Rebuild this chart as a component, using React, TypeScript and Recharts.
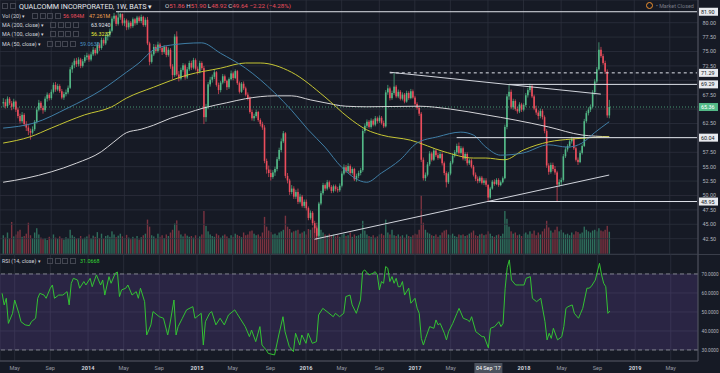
import React from 'react';
import { ComposedChart, Bar, Line, XAxis, YAxis, CartesianGrid, ReferenceLine, ReferenceArea } from 'recharts';

// QCOM weekly candles, one value per week (open = previous close)
const firstOpen = 66.0;
const closes = [
  66.2, 65.5, 66.8, 66.0, 65.4, 66.3, 64.9, 63.8, 62.9, 64.0,
  62.4, 61.8, 61.2, 60.9, 61.5, 62.8, 64.9, 66.1, 65.2, 64.8,
  66.8, 67.5, 66.9, 68.0, 69.2, 68.4, 69.0, 68.1, 67.0, 67.6,
  67.9, 68.7, 71.9, 72.6, 73.4, 72.8, 73.6, 72.5, 73.3, 74.0,
  74.3, 73.6, 74.5, 75.3, 74.7, 76.2, 75.6, 77.0, 76.4, 77.6,
  77.9, 78.6, 80.7, 81.2, 79.8, 80.9, 81.5, 79.9, 80.4, 79.2,
  80.0, 79.4, 80.6, 79.9, 80.9, 80.3, 81.0, 79.6, 80.5, 76.4,
  73.2, 74.5, 75.8, 75.1, 76.2, 75.6, 74.9, 75.8, 74.4, 75.3,
  72.4, 70.9, 77.6, 71.0, 70.3, 71.8, 72.6, 70.5, 71.9, 73.0,
  72.2, 73.5, 72.0, 71.5, 73.0, 72.1, 63.6, 65.4, 69.3, 70.1,
  70.6, 71.4, 69.2, 68.3, 69.6, 70.7, 69.9, 68.8, 70.2, 71.2,
  70.4, 71.6, 69.5, 68.0, 69.4, 68.6, 67.5, 66.9, 64.5, 63.4,
  63.8, 64.5, 63.1, 62.4, 61.8, 56.0, 54.5, 53.9, 53.2, 54.0,
  54.6, 56.3, 57.9, 59.4, 60.8, 53.4, 52.6, 50.6, 51.2, 49.8,
  50.6, 48.9, 49.8, 48.2, 48.9, 47.8, 46.1, 47.0, 45.2, 44.3,
  43.0, 48.6, 50.4, 51.8, 51.2, 52.3, 51.5, 50.8, 51.6, 51.1,
  50.9, 51.7, 53.8, 54.9, 54.2, 55.1, 53.9, 54.6, 52.8, 53.4,
  53.9, 54.4, 61.2, 62.1, 62.8, 61.9, 63.0, 62.3, 63.4, 62.9,
  63.5, 62.6, 62.0, 67.9, 68.6, 66.9, 67.8, 68.9, 67.2, 68.0,
  66.8, 67.5, 66.3, 67.8, 66.9, 68.1, 67.0, 65.9, 65.2, 64.2,
  56.2, 53.0, 53.6, 55.4, 57.3, 56.2, 57.8, 57.0, 56.5, 57.2,
  55.6, 53.9, 52.3, 53.8, 55.7, 56.9, 57.5, 58.6, 57.4, 58.2,
  56.4, 57.2, 55.6, 56.1, 55.0, 53.6, 52.9, 52.5, 53.1, 52.2,
  52.6, 51.86, 49.64, 51.2, 52.4, 52.0, 52.7, 51.8, 52.3, 53.0,
  61.9, 67.2, 68.0, 65.3, 66.4, 65.0, 64.6, 65.8, 64.9, 65.7,
  67.4, 68.3, 69.0, 67.2, 65.1, 64.4, 63.8, 64.7, 63.6, 61.2,
  55.2, 54.1, 55.3, 54.6, 54.0, 51.9, 52.3, 52.7, 56.8, 58.0,
  58.6, 59.4, 59.8, 58.2, 56.2, 55.8, 57.4, 58.6, 62.9, 64.3,
  64.9, 65.4, 67.9, 69.8, 71.9, 75.3, 74.2, 73.0, 71.5, 63.9,
  65.36,
];
const highs = [
  66.9, 66.7, 67.2, 67.1, 66.4, 66.8, 66.5, 65.3, 64.2, 64.5,
  64.3, 62.9, 62.2, 61.6, 62.0, 63.1, 65.3, 66.6, 66.4, 65.6,
  67.2, 67.9, 67.8, 68.4, 69.6, 69.7, 69.4, 69.3, 68.5, 68.0,
  68.4, 69.1, 72.3, 73.1, 73.8, 73.9, 74.0, 73.9, 73.7, 74.4,
  74.8, 74.6, 74.9, 75.8, 75.6, 76.6, 76.5, 77.4, 77.3, 78.0,
  78.4, 79.0, 81.1, 81.7, 81.4, 81.9, 81.7, 81.6, 80.8, 80.7,
  80.4, 80.3, 80.9, 80.8, 81.2, 81.2, 81.4, 81.2, 80.9, 81.0,
  76.7, 74.9, 76.3, 76.2, 76.7, 76.5, 75.9, 76.1, 76.0, 75.7,
  75.6, 72.8, 78.0, 78.5, 71.6, 72.2, 73.0, 72.9, 72.3, 73.4,
  73.4, 73.9, 73.8, 72.4, 73.4, 73.3, 72.5, 65.9, 69.7, 70.6,
  71.0, 71.9, 71.6, 69.6, 69.9, 71.1, 71.0, 70.1, 70.5, 71.7,
  71.5, 71.9, 71.8, 69.8, 69.7, 69.8, 68.9, 67.9, 67.2, 64.9,
  64.2, 64.9, 64.7, 63.4, 62.8, 62.2, 56.4, 55.2, 54.5, 54.4,
  55.0, 56.7, 58.3, 59.9, 61.2, 61.0, 53.9, 52.9, 51.8, 51.6,
  51.0, 51.2, 50.3, 50.1, 49.3, 49.3, 48.1, 47.4, 47.3, 45.6,
  44.6, 48.9, 50.8, 52.2, 52.1, 52.7, 52.6, 51.8, 51.9, 51.9,
  51.5, 52.1, 54.2, 55.4, 55.3, 55.6, 55.4, 54.9, 54.8, 53.8,
  54.3, 54.8, 61.6, 62.5, 63.2, 63.1, 63.4, 63.3, 63.8, 63.7,
  63.9, 63.8, 63.0, 68.3, 69.2, 68.9, 68.2, 71.3, 69.2, 68.4,
  68.3, 67.9, 67.8, 68.2, 68.1, 68.5, 68.4, 67.3, 66.2, 65.6,
  64.5, 56.6, 54.0, 55.8, 57.7, 57.6, 58.2, 58.1, 57.4, 57.6,
  57.5, 55.9, 54.2, 54.1, 56.0, 57.3, 57.9, 59.0, 59.2, 58.6,
  58.5, 57.5, 57.5, 56.4, 56.4, 55.3, 54.0, 53.3, 53.4, 53.4,
  53.0, 53.0, 51.9, 51.5, 52.7, 52.8, 53.0, 53.0, 52.6, 53.3,
  62.3, 67.6, 69.2, 68.4, 66.8, 66.7, 65.4, 66.2, 66.1, 66.0,
  67.8, 68.7, 69.4, 69.3, 67.5, 65.6, 64.8, 65.1, 65.0, 63.9,
  61.5, 55.6, 55.7, 55.7, 55.1, 54.3, 52.8, 53.1, 57.2, 58.4,
  58.9, 59.7, 60.2, 60.1, 58.5, 56.6, 57.8, 58.9, 63.3, 64.7,
  65.3, 65.8, 68.3, 70.2, 72.3, 76.6, 75.8, 74.6, 73.4, 71.9,
  66.6,
];
const lows = [
  65.3, 65.1, 65.2, 65.7, 64.8, 65.0, 64.5, 63.4, 62.5, 62.6,
  62.0, 61.2, 60.5, 59.7, 60.6, 61.2, 62.5, 64.6, 64.8, 64.2,
  64.5, 66.3, 66.5, 66.6, 67.7, 68.0, 68.1, 67.8, 66.7, 66.6,
  67.2, 67.6, 68.5, 71.3, 72.1, 72.3, 72.4, 72.1, 72.2, 73.0,
  73.5, 73.2, 73.3, 74.2, 74.3, 74.5, 75.1, 75.3, 76.0, 76.1,
  76.9, 77.5, 78.3, 80.2, 79.4, 79.5, 80.5, 79.5, 79.4, 78.7,
  78.8, 79.0, 79.1, 79.5, 79.6, 80.0, 79.9, 79.3, 79.3, 76.1,
  72.6, 72.9, 74.2, 74.7, 74.8, 75.2, 74.4, 74.6, 74.0, 74.1,
  72.0, 70.2, 70.6, 70.7, 69.8, 70.0, 71.5, 70.1, 70.2, 71.6,
  71.8, 71.9, 71.7, 71.0, 71.2, 71.8, 62.4, 62.8, 65.0, 68.9,
  69.6, 70.2, 68.9, 67.6, 67.9, 69.3, 69.5, 68.3, 68.5, 70.0,
  70.0, 70.2, 69.2, 67.7, 67.8, 68.3, 67.2, 66.5, 64.2, 63.0,
  62.9, 63.5, 62.8, 62.0, 61.4, 55.6, 53.8, 53.2, 52.6, 52.9,
  53.4, 54.2, 56.0, 57.5, 59.1, 53.0, 52.1, 50.1, 50.2, 49.4,
  49.4, 48.5, 48.6, 47.9, 47.8, 47.4, 45.7, 45.8, 44.8, 43.5,
  42.3, 42.8, 48.3, 50.1, 50.8, 50.9, 51.2, 50.4, 50.5, 50.7,
  50.5, 50.6, 51.4, 53.5, 53.9, 53.9, 53.6, 53.6, 52.5, 52.4,
  53.0, 53.5, 54.1, 60.8, 61.7, 61.6, 61.6, 62.0, 62.0, 62.5,
  62.6, 62.3, 61.7, 61.8, 67.5, 66.5, 66.6, 67.5, 66.9, 66.9,
  66.5, 66.5, 66.0, 66.1, 66.6, 66.7, 66.8, 65.6, 64.9, 63.8,
  55.8, 52.6, 52.5, 53.3, 55.1, 55.9, 56.0, 56.7, 56.2, 56.3,
  55.2, 53.5, 51.4, 52.0, 53.5, 55.4, 56.6, 57.1, 57.1, 57.1,
  56.1, 56.0, 55.2, 55.3, 54.7, 53.3, 52.5, 52.1, 52.2, 51.9,
  51.8, 51.5, 48.92, 49.4, 51.0, 51.7, 51.8, 51.5, 51.6, 52.1,
  52.8, 61.5, 66.6, 65.0, 64.9, 64.7, 64.2, 64.3, 64.5, 64.6,
  65.4, 67.0, 67.9, 66.9, 64.8, 64.0, 63.2, 63.4, 63.2, 60.8,
  54.8, 53.6, 53.8, 54.2, 53.6, 48.9, 51.5, 51.8, 52.4, 56.5,
  57.6, 58.3, 59.0, 57.9, 55.9, 55.3, 55.6, 57.1, 58.4, 62.6,
  63.9, 64.5, 65.1, 67.5, 69.5, 71.7, 73.9, 72.7, 71.1, 63.5,
  63.4,
];
// weekly volume, millions
const volumes = [
  48, 42, 55, 40, 82, 45, 50, 58, 62, 44,
  46, 52, 80, 48, 40, 55, 66, 50, 42, 38,
  40, 36, 44, 38, 50, 42, 39, 45, 41, 37,
  43, 40, 62, 48, 44, 39, 41, 46, 38, 42,
  45, 50, 40, 47, 44, 56, 41, 52, 39, 46,
  48, 44, 58, 50, 43, 47, 52, 45, 41, 49,
  42, 38, 44, 40, 46, 37, 43, 48, 52, 88,
  70, 48, 45, 40, 52, 44, 48, 41, 50, 46,
  55, 62, 78, 86, 60, 50, 45, 52, 47, 44,
  46, 42, 48, 40, 45, 50, 110, 72, 58, 50,
  46, 44, 52, 48, 42, 47, 50, 45, 41, 48,
  44, 52, 49, 46, 43, 55, 48, 50, 58, 60,
  52, 48, 50, 45, 55, 95, 70, 60, 56, 50,
  52, 48, 55, 58, 62, 98, 70, 64, 55, 58,
  60, 62, 52, 55, 58, 50, 64, 62, 68, 72,
  80, 70, 62, 55, 50, 48, 52, 46, 50, 45,
  48, 44, 50, 52, 46, 48, 55, 44, 50, 46,
  48, 52, 85, 60, 50, 46, 44, 48, 42, 45,
  50, 52, 48, 88, 55, 50, 62, 48, 46, 50,
  45, 48, 42, 50, 46, 44, 48, 52, 50, 62,
  150, 80, 62, 55, 52, 48, 46, 50, 44, 48,
  55, 60, 62, 50, 48, 52, 46, 44, 50, 48,
  50, 46, 48, 52, 55, 60, 48, 46, 50, 52,
  48, 50, 58, 52, 46, 44, 48, 50, 46, 52,
  110, 90, 70, 58, 52, 55, 48, 50, 46, 52,
  55, 50, 58, 52, 60, 48, 55, 50, 58, 65,
  85, 68, 60, 55, 62, 70, 58, 62, 55, 50,
  52, 48, 55, 50, 58, 56, 52, 55, 70, 62,
  58, 55, 60, 62, 58, 66, 60, 58, 62, 72,
  57,
];

// moving averages read at a few weeks (week index, value)
const ma200Week = [0, 11, 23, 35, 47, 53, 59, 66, 72, 80, 88, 96, 107, 116, 130, 138, 147, 154, 164, 174, 199, 214, 231, 245, 261, 277, 290];
const ma200Val = [52.3, 53.0, 54.1, 55.6, 57.6, 59.3, 60.9, 61.5, 62.2, 63.4, 64.3, 65.2, 66.1, 66.8, 67.3, 67.3, 66.6, 66.1, 65.5, 65.4, 65.5, 65.0, 64.0, 63.1, 61.9, 60.5, 60.2];
const ma100Week = [0, 13, 23, 39, 52, 59, 72, 88, 104, 116, 123, 138, 154, 165, 174, 181, 195, 211, 225, 231, 240, 249, 261, 272, 290];
const ma100Val = [59.1, 60.2, 61.7, 64.0, 65.4, 66.9, 68.8, 70.9, 72.1, 73.0, 73.0, 71.4, 67.1, 63.6, 61.4, 60.5, 59.6, 57.6, 56.5, 56.5, 56.2, 57.9, 59.3, 59.8, 60.2];
const ma50Week = [0, 15, 31, 47, 59, 65, 72, 80, 95, 104, 116, 130, 138, 146, 154, 162, 174, 181, 190, 198, 208, 219, 225, 231, 238, 249, 261, 270, 277, 283, 290];
const ma50Val = [61.7, 62.6, 65.2, 68.3, 71.4, 73.0, 75.3, 76.1, 76.5, 74.7, 72.1, 67.8, 64.8, 61.4, 58.4, 54.9, 52.3, 53.9, 56.2, 59.1, 60.2, 61.0, 60.5, 58.4, 57.0, 57.4, 58.8, 58.4, 59.1, 60.9, 62.8];

// RSI(14) readings (week index, value)
const rsiWeek = [0, 1, 2, 3, 5, 6, 8, 9, 11, 13, 14, 16, 17, 18, 20, 21, 23, 24, 25, 27, 29, 31, 32, 33, 34, 36, 37, 39, 40, 42, 43, 45, 47, 48, 49, 51, 52, 54, 55, 56, 57, 59, 60, 62, 64, 65, 66, 68, 69, 71, 72, 75, 77, 79, 80, 82, 83, 84, 86, 88, 91, 92, 95, 96, 97, 99, 100, 102, 104, 106, 108, 111, 112, 114, 116, 118, 119, 121, 123, 124, 126, 127, 130, 132, 134, 135, 137, 139, 140, 142, 143, 145, 146, 148, 150, 151, 153, 155, 158, 159, 161, 163, 164, 166, 167, 169, 171, 172, 173, 175, 177, 178, 179, 180, 181, 182, 183, 184, 185, 186, 187, 188, 189, 190, 191, 192, 194, 195, 197, 198, 199, 200, 201, 202, 204, 206, 207, 208, 209, 211, 212, 213, 215, 217, 218, 220, 222, 223, 224, 226, 227, 229, 230, 232, 233, 235, 237, 238, 239, 240, 241, 242, 243, 245, 247, 249, 250, 252, 253, 255, 257, 258, 259, 260, 261, 262, 263, 265, 267, 268, 269, 270, 272, 273, 275, 276, 277, 279, 280, 281, 283, 285, 286, 287, 288, 289, 290];
const rsiVal = [59.8, 53.7, 57.2, 44, 49.3, 56.3, 49.3, 44.9, 43.2, 42.8, 44.9, 46.7, 57.2, 59.8, 58.9, 57.2, 62.5, 64.2, 57.2, 58.9, 58.9, 60.7, 53.7, 65.1, 67.7, 66.8, 62.5, 66, 64.2, 67.7, 63.3, 69.5, 64.2, 66.8, 58.9, 68.6, 65.1, 70.4, 71, 58.1, 61.6, 62.5, 64.2, 58.9, 60.7, 57.2, 62.5, 55.4, 37.9, 43.2, 50.2, 47.5, 46.7, 37.9, 43.2, 56.3, 37.9, 42.3, 46.7, 51.1, 52.8, 46.7, 49.3, 32.6, 44.9, 49.3, 50.2, 43.2, 46.7, 43.2, 48.4, 51.1, 49.3, 45.8, 42.3, 37, 40.5, 34.4, 42.3, 32.6, 30, 28.2, 27.4, 37.9, 47.5, 39.6, 31.8, 29.1, 38.8, 32.6, 37.9, 33.5, 38.8, 33.5, 34.4, 48.4, 51.9, 50.2, 47.5, 49.3, 47.5, 49.3, 58.1, 58.9, 53.7, 49.3, 56.3, 71.2, 72.1, 69.5, 70.4, 71.2, 69.5, 61.6, 66, 65.1, 73.9, 73, 66, 68.6, 65.1, 67.7, 63.3, 63.3, 66, 58.9, 62.5, 54.6, 57.2, 52, 49.3, 36.1, 32.6, 36.1, 42.3, 41.4, 45.8, 43.2, 44, 38.8, 35.3, 39.6, 44, 49.3, 51.9, 46.7, 45.8, 44.9, 47.5, 39.6, 38.8, 37, 37, 31.1, 41.4, 42.3, 44.9, 42.3, 44, 62.5, 73.5, 77.4, 66.8, 64.2, 64.2, 64.2, 67.7, 68.6, 57.2, 55.4, 57.2, 51.1, 44.9, 35.3, 38.8, 36.1, 41.4, 35.3, 37, 42.3, 51.9, 52.8, 53.7, 49.3, 46.7, 49.3, 51.9, 62.5, 62.5, 63.3, 66.8, 75.6, 69.5, 65.1, 63.3, 49.3, 50.5];

const tickMonths = ['2013-05', '2013-09', '2014-01', '2014-05', '2014-09', '2015-01', '2015-05', '2015-09', '2016-01', '2016-05', '2016-09', '2017-01', '2017-05', '2017-09', '2018-01', '2018-05', '2018-09', '2019-01', '2019-05'];
const tickLabels = ['May', 'Sep', '2014', 'May', 'Sep', '2015', 'May', 'Sep', '2016', 'May', 'Sep', '2017', 'May', 'Sep', '2018', 'May', 'Sep', '2019', 'May'];
const priceTicks = [42.5, 45, 47.5, 50, 52.5, 55, 57.5, 60, 62.5, 65, 67.5, 70, 72.5, 75, 77.5, 80];
const coveredTicks = [60, 65, 70]; // labels hidden under the level tags
const rsiTicks = [30, 40, 50, 60, 70];

// drawn levels: price, first week of the drawing, dashed
const levelPrice = [81.9, 71.29, 69.29, 60.04, 48.95];
const levelFrom = [54, 185, 242, 217, 232];
const levelDash = [false, true, false, false, false];
// trend lines: [week, price] -> [week, price]
const trendStart = [[185, 71.4], [149, 42.4]];
const trendEnd = [[286, 67.6], [290, 53.55]];
const lastPrice = 65.36;
const crossWeek = 232;

const START = Date.UTC(2013, 2, 18);
const ROWS = 334;
const keyOf = (r: number) => new Date(START + r * 7 * 86400000).toISOString().slice(0, 10);

const rows: any[] = Array.from({ length: ROWS }, (_, r) => ({ d: keyOf(r) }));
closes.forEach((c, k) => {
  const o = k === 0 ? firstOpen : closes[k - 1];
  Object.assign(rows[k + 1], { o, c, h: highs[k], l: lows[k], v: volumes[k] });
});
const put = (weeks: number[], vals: number[], name: string) =>
  weeks.forEach((w, j) => { rows[w + 1][name] = vals[j]; });
put(ma200Week, ma200Val, 'ma200');
put(ma100Week, ma100Val, 'ma100');
put(ma50Week, ma50Val, 'ma50');
put(rsiWeek, rsiVal, 'rsi');

const tickKeys = tickMonths.map((m) => rows.find((r) => r.d.startsWith(m)).d);
const tickLabelOf: Record<string, string> = {};
tickKeys.forEach((k, i) => { tickLabelOf[k] = tickLabels[i]; });
const crossKey = keyOf(crossWeek + 1);
const lastKey = rows[ROWS - 1].d;

const BG = '#161a25';
const GRID = '#2c303c';
const UP = '#53b987';
const DOWN = '#eb4d5c';
const AXIS_TXT = '#b2b5be';
const FONT = 'Roboto, "Liberation Sans", sans-serif';

const Candle = (p: any) => {
  const { x, y, width, height, payload } = p;
  if (payload == null || payload.c == null) return null;
  const { o, c, h, l } = payload;
  const top = Math.min(y, y + height);
  const hh = Math.abs(height);
  const py = (v: number) => top + ((h - v) / (h - l || 1)) * hh;
  const cx = x + width / 2;
  const b1 = py(Math.max(o, c));
  const b2 = py(Math.min(o, c));
  const col = c >= o ? UP : DOWN;
  return (
    <g>
      <line x1={cx} x2={cx} y1={top} y2={top + hh} stroke={col} strokeWidth={0.7} />
      <rect x={cx - 0.8} y={b1} width={1.6} height={Math.max(b2 - b1, 0.7)} fill={col} />
    </g>
  );
};

const VolBar = (p: any) => {
  const { x, y, width, height, payload } = p;
  if (payload == null || payload.v == null) return null;
  const col = payload.c >= payload.o ? '#2f6e5c' : '#7a3340';
  return <rect x={x + width / 2 - 0.7} y={y} width={1.4} height={Math.max(height, 0)} fill={col} />;
};

const PriceTick = (p: any) => {
  const v = p.payload.value;
  if (coveredTicks.includes(v)) return null;
  return (
    <text x={p.x + 2.5} y={p.y + 2} fontSize={5.4} fill={AXIS_TXT} fontFamily={FONT}>
      {v.toFixed(2)}
    </text>
  );
};
const RsiTick = (p: any) => (
  <text x={p.x + 1.5} y={p.y + 2} fontSize={4.7} fill={AXIS_TXT} fontFamily={FONT}>
    {p.payload.value.toFixed(4)}
  </text>
);
const TimeTick = (p: any) => {
  const key = p.payload.value;
  if (key === crossKey) {
    return (
      <g>
        <rect x={p.x - 14} y={p.y} width={28} height={11} fill="#4c525e" />
        <text x={p.x} y={p.y + 7.3} textAnchor="middle" fontSize={5.4} fill="#ffffff" fontFamily={FONT}>04 Sep '17</text>
      </g>
    );
  }
  const lbl = tickLabelOf[key];
  const yr = /^\d{4}$/.test(lbl);
  return (
    <text x={p.x} y={p.y + 7.3} textAnchor="middle" fontSize={5.6} fill={yr ? '#d1d4dc' : '#9598a1'} fontWeight={yr ? 700 : 400} fontFamily={FONT}>
      {lbl}
    </text>
  );
};

const tag = (text: string, bg: string, fg: string) => (props: any) => {
  const vb = props.viewBox;
  const x = vb.x + vb.width + 1;
  return (
    <g>
      <rect x={x} y={vb.y - 4} width={19} height={8} fill={bg} />
      <text x={x + 2} y={vb.y + 2} fontSize={5.4} fill={fg} fontFamily={FONT}>{text}</text>
    </g>
  );
};

const Icons = ({ n }: { n: number }) => (
  <span style={{ display: 'inline-flex', gap: 1.5, verticalAlign: 'top' }}>
    {Array.from({ length: n }).map((_, i) => (
      <span key={i} style={{ width: 6, height: 6, border: '1px solid #434651', boxSizing: 'border-box', display: 'inline-block' }} />
    ))}
  </span>
);

const txt = (left: number, top: number, children: any, style: any = {}) => (
  <div style={{ position: 'absolute', left, top, fontSize: 5.4, lineHeight: '7px', whiteSpace: 'nowrap', color: '#d1d4dc', fontFamily: FONT, ...style }}>
    {children}
  </div>
);

export default function App() {
  return (
    <div style={{ position: 'absolute', left: 0, top: 0, width: 720, height: 373, background: BG, overflow: 'hidden' }}>
      {/* volume behind the price panel */}
      <div style={{ position: 'absolute', left: 0, top: 0 }}>
        <ComposedChart width={720} height={254} data={rows} margin={{ top: 0, right: 0, left: 0, bottom: 0 }}>
          <XAxis dataKey="d" hide />
          <YAxis orientation="right" width={22} domain={[0, 650]} tick={false} axisLine={false} tickLine={false} />
          <Bar dataKey="v" shape={<VolBar />} isAnimationActive={false} />
        </ComposedChart>
      </div>

      <div style={{ position: 'absolute', left: 0, top: 0 }}>
        <ComposedChart width={720} height={254} data={rows} margin={{ top: 0, right: 0, left: 0, bottom: 0 }}>
          <CartesianGrid yAxisId="p" stroke={GRID} strokeWidth={0.8} />
          <XAxis dataKey="d" hide ticks={tickKeys} interval={0} />
          <YAxis
            yAxisId="p"
            orientation="right"
            width={22}
            domain={[39.84, 83.94]}
            allowDataOverflow
            ticks={priceTicks}
            interval={0}
            tick={<PriceTick />}
            tickLine={false}
            tickSize={0}
            axisLine={{ stroke: '#50535e' }}
          />
          <ReferenceLine yAxisId="p" y={lastPrice} stroke={UP} strokeWidth={0.8} strokeDasharray="1 2" />
          <Line yAxisId="p" dataKey="ma200" stroke="#d4d4d8" strokeWidth={1} dot={false} connectNulls type="monotone" isAnimationActive={false} />
          <Line yAxisId="p" dataKey="ma100" stroke="#c6c634" strokeWidth={1} dot={false} connectNulls type="monotone" isAnimationActive={false} />
          <Line yAxisId="p" dataKey="ma50" stroke="#3f7ea6" strokeWidth={1} dot={false} connectNulls type="monotone" isAnimationActive={false} />
          <Bar yAxisId="p" dataKey={(r: any) => (r.c == null ? null : [r.l, r.h])} shape={<Candle />} isAnimationActive={false} />
          {levelPrice.map((v, i) => (
            <ReferenceLine
              key={'lv' + i}
              yAxisId="p"
              segment={[{ x: rows[levelFrom[i] + 1].d, y: v }, { x: lastKey, y: v }]}
              stroke="#e0e3eb"
              strokeWidth={1}
              strokeDasharray={levelDash[i] ? '3 3' : undefined}
            />
          ))}
          {trendStart.map((s, i) => (
            <ReferenceLine
              key={'tr' + i}
              yAxisId="p"
              segment={[{ x: rows[s[0] + 1].d, y: s[1] }, { x: rows[trendEnd[i][0] + 1].d, y: trendEnd[i][1] }]}
              stroke="#d1d4dc"
              strokeWidth={1}
            />
          ))}
          {levelPrice.map((v, i) => (
            <ReferenceLine key={'tg' + i} yAxisId="p" y={v} stroke="none" label={tag(v.toFixed(2), '#e8eaef', '#131722')} />
          ))}
          <ReferenceLine yAxisId="p" y={lastPrice} stroke="none" label={tag(lastPrice.toFixed(2), UP, '#ffffff')} />
        </ComposedChart>
      </div>

      <div style={{ position: 'absolute', left: 0, top: 253.5, width: 720, height: 1, background: '#3a3e4a' }} />

      <div style={{ position: 'absolute', left: 0, top: 254 }}>
        <ComposedChart width={720} height={119} data={rows} margin={{ top: 0, right: 0, left: 0, bottom: 0 }}>
          <ReferenceArea y1={30} y2={70} fill="#7e57c2" fillOpacity={0.2} stroke="none" />
          <CartesianGrid stroke={GRID} strokeWidth={0.8} />
          <XAxis
            dataKey="d"
            ticks={tickKeys}
            interval={0}
            height={12}
            tick={<TimeTick />}
            tickLine={false}
            tickSize={0}
            axisLine={{ stroke: '#50535e' }}
          />
          <YAxis
            orientation="right"
            width={22}
            domain={[24.2, 80.5]}
            allowDataOverflow
            ticks={rsiTicks}
            interval={0}
            tick={<RsiTick />}
            tickLine={false}
            tickSize={0}
            axisLine={{ stroke: '#50535e' }}
          />
          <ReferenceLine y={70} stroke="#9598a1" strokeDasharray="4 3" strokeWidth={0.8} />
          <ReferenceLine y={30} stroke="#9598a1" strokeDasharray="4 3" strokeWidth={0.8} />
          <Line dataKey="rsi" stroke="#33c233" strokeWidth={1} dot={false} connectNulls type="linear" isAnimationActive={false} />
        </ComposedChart>
      </div>

      {/* legends */}
      {txt(2, 3, <Icons n={2} />)}
      {txt(19, 2, 'QUALCOMM INCORPORATED, 1W, BATS ▾', { fontSize: 7.2, lineHeight: '9px', color: '#e6e8ee' })}
      {txt(165, 3, (
        <span style={{ fontSize: 6.2 }}>
          <span>O</span><span style={{ color: DOWN }}>51.86 </span>
          <span>H</span><span style={{ color: DOWN }}>51.90 </span>
          <span>L</span><span style={{ color: DOWN }}>48.92 </span>
          <span>C</span><span style={{ color: DOWN }}>49.64 </span>
          <span style={{ color: DOWN }}> −2.22 (−4.28%)</span>
        </span>
      ))}
      {txt(2, 12.5, 'Vol (20) ▾')}
      {txt(32, 12.5, <Icons n={4} />)}
      {txt(63, 12.5, '56.984M', { color: DOWN })}
      {txt(89, 12.5, '47.261M', { color: '#f0a050' })}
      {txt(2, 22, 'MA (200, close) ▾')}
      {txt(50, 22, <Icons n={4} />)}
      {txt(91, 22, '63.9240', { color: '#e0e3eb' })}
      {txt(2, 31, 'MA (100, close) ▾')}
      {txt(50, 31, <Icons n={4} />)}
      {txt(91, 31, '56.3237', { color: '#e8e83c' })}
      {txt(2, 40.5, 'MA (50, close) ▾')}
      {txt(47, 40.5, <Icons n={4} />)}
      {txt(80, 40.5, '59.0638', { color: '#4a8fc0' })}
      {txt(2, 257.5, 'RSI (14, close) ▾')}
      {txt(47, 257.5, <Icons n={4} />)}
      {txt(80, 257.5, '31.0668', { color: '#33d633' })}

      <div style={{ position: 'absolute', left: 646, top: 2, width: 7, height: 7, borderRadius: '50%', border: '1px solid #f0912f', boxSizing: 'border-box' }} />
      {txt(656, 3, '• Market Closed', { color: '#787b86', fontSize: 5.4 })}
    </div>
  );
}
